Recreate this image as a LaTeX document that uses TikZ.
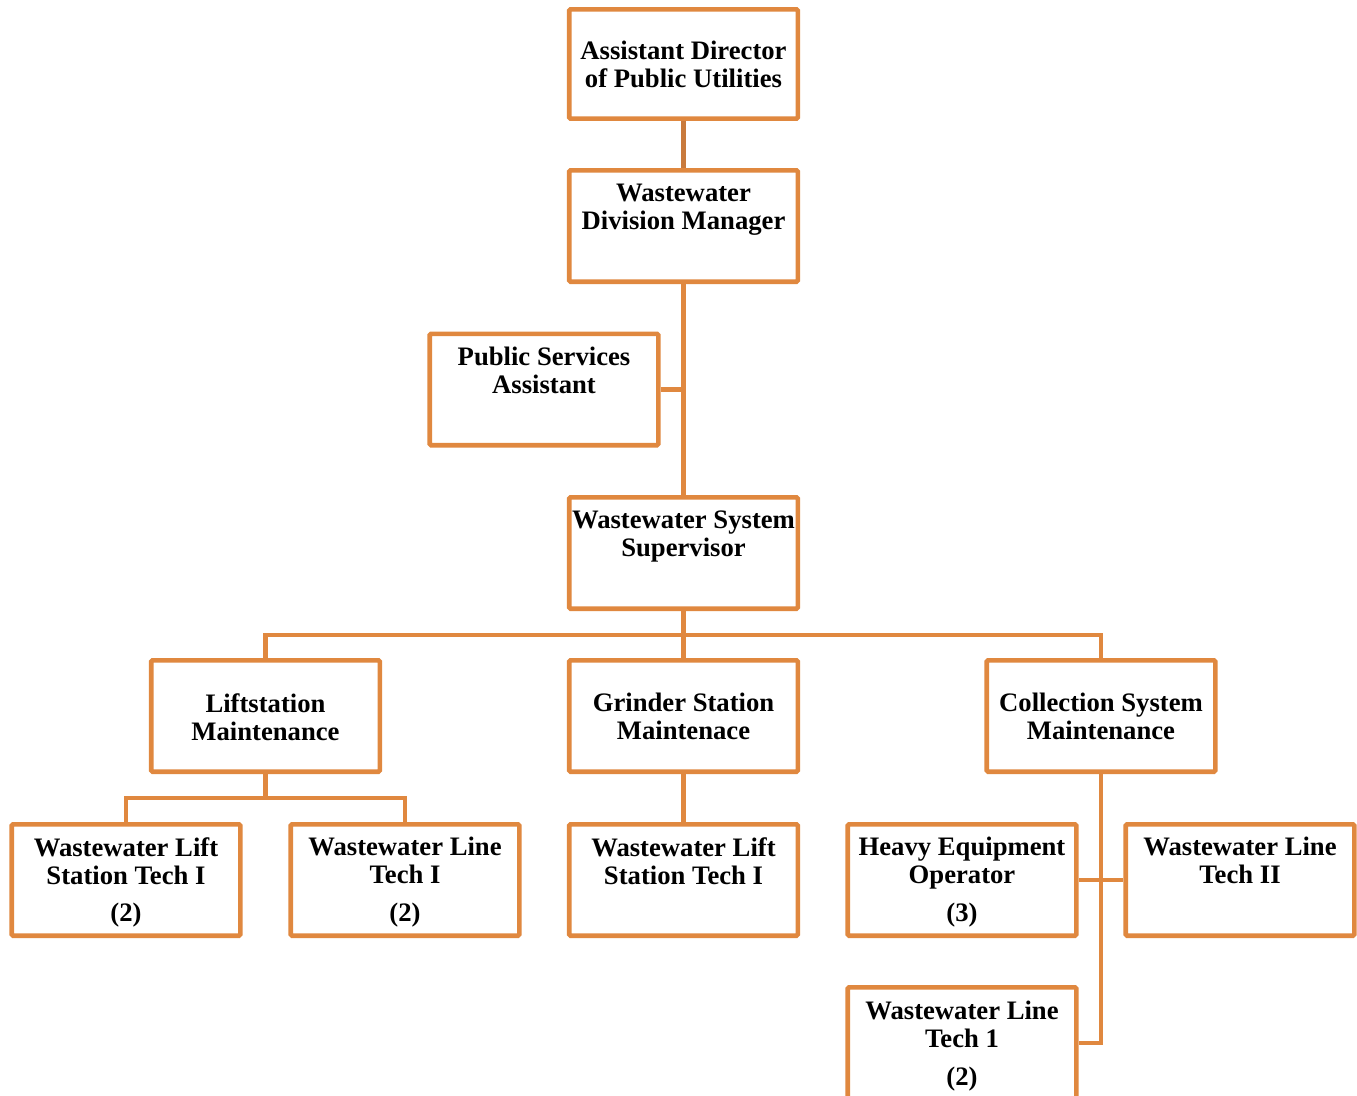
\documentclass[tikz,border=0pt]{standalone}
\usepackage{fontspec}
\setmainfont{Liberation Serif}
\definecolor{org}{HTML}{E0883F}
\definecolor{orgdark}{HTML}{C97A3C}
\begin{document}
\begin{tikzpicture}[x=0.75pt,y=-0.75pt,
  box/.style={draw=org,line width=3.4pt,rounded corners=1pt,inner sep=0pt,minimum width=171.4pt,minimum height=83.6pt},
  txt/.style={anchor=north,inner sep=0pt,align=center,font=\fontsize{20}{21}\selectfont\bfseries},
  conn/.style={draw=org,line width=3.4pt}]
\clip (0,0) rectangle (1357,1096);
\fill[white] (0,0) rectangle (1357,1096);
% boxes
\node[box,minimum height=82pt] (adir) at (683.5,64) {};
\node[box] (wdm) at (683.5,226) {};
\node[box] (psa) at (544,389.5) {};
\node[box] (sup) at (683.5,553) {};
\node[box] (lift) at (265.5,716) {};
\node[box] (grind) at (683.5,716) {};
\node[box] (coll) at (1101,716) {};
\node[box] (wlsa) at (126,880) {};
\node[box] (wlta) at (405,880) {};
\node[box] (wlsb) at (683.5,880) {};
\node[box] (heavy) at (962,880) {};
\node[box] (wltb) at (1240,880) {};
\node[box] (wltc) at (962,1043) {};
% texts
\node[txt] (tadir) at (683.5,41) {Assistant Director\\of Public Utilities};
\node[txt] (twdm) at (683.5,184) {Wastewater\\Division Manager};
\node[txt] (tpsa) at (544,347) {Public Services\\Assistant};
\node[txt] (tsup) at (683.5,511) {Wastewater System\\Supervisor};
\node[txt] (tlift) at (265.5,693) {Liftstation\\Maintenance};
\node[txt] (tgrind) at (683.5,693) {Grinder Station\\Maintenace};
\node[txt] (tcoll) at (1101,693) {Collection System\\Maintenance};
\node[txt] (twlsa) at (126,837) {Wastewater Lift\\Station Tech I\\[7pt](2)};
\node[txt] (twlta) at (405,837) {Wastewater Line\\Tech I\\[7pt](2)};
\node[txt] (twlsb) at (683.5,837) {Wastewater Lift\\Station Tech I};
\node[txt] (theavy) at (962,837) {Heavy Equipment\\Operator\\[7pt](3)};
\node[txt] (twltb) at (1240,837) {Wastewater Line\\Tech II};
\node[txt] (twltc) at (962,1001) {Wastewater Line\\Tech 1\\[7pt](2)};
% connectors
\draw[draw=orgdark,line width=3.4pt] (adir.south) -- (wdm.north);
\draw[conn] (wdm.south) -- (sup.north);
\draw[conn] (psa.east) -- (psa.east -| wdm.south);
\coordinate (j1) at (683.5,635);
\draw[conn] (sup.south) -- (j1);
\draw[conn] (j1) -- (grind.north);
\draw[conn] (lift.north) |- (j1) -| (coll.north);
\coordinate (j2) at (265.5,798);
\draw[conn] (lift.south) -- (j2);
\draw[conn] (wlsa.north) |- (j2) -| (wlta.north);
\draw[conn] (grind.south) -- (wlsb.north);
\draw[conn] (coll.south) -- (coll.south |- wltc.east) -- (wltc.east);
\draw[conn] (heavy.east) -- (wltb.west);
\end{tikzpicture}
\end{document}
